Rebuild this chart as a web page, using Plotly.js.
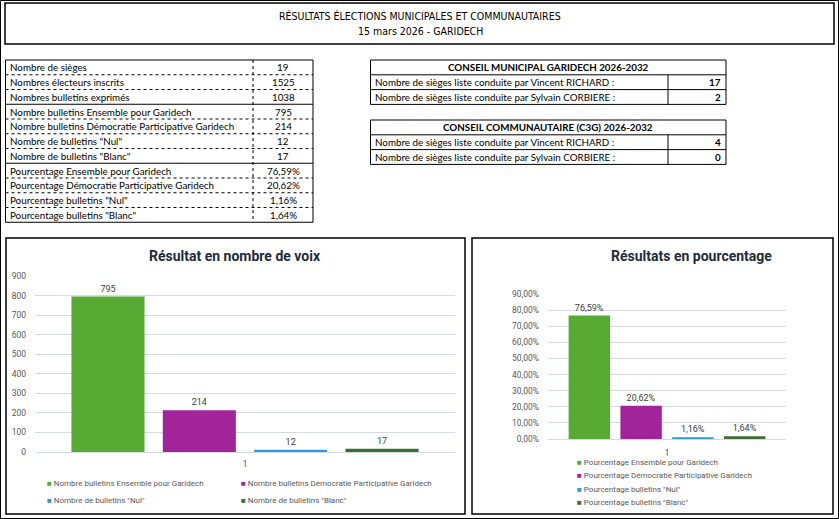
<!DOCTYPE html>
<html><head><meta charset="utf-8">
<script src="https://cdn.plot.ly/plotly-3.0.1.min.js"></script>
<style>html,body{margin:0;padding:0;background:#fff;overflow:hidden}#chart{width:839px;height:519px}</style>
</head><body><div id="chart"></div>
<script>
const W = 839, H = 519;

// ---- data ----
const pageTitle = 'RÉSULTATS ÉLECTIONS MUNICIPALES ET COMMUNAUTAIRES';
const pageSubtitle = '15 mars 2026 - GARIDECH';
const summaryLabels = [
  'Nombre de sièges',
  'Nombres électeurs inscrits',
  'Nombres bulletins exprimés',
  'Nombre bulletins Ensemble pour Garidech',
  'Nombre bulletins Démocratie Participative Garidech',
  'Nombre de bulletins "Nul"',
  'Nombre de bulletins "Blanc"',
  'Pourcentage Ensemble pour Garidech',
  'Pourcentage Démocratie Participative Garidech',
  'Pourcentage bulletins "Nul"',
  'Pourcentage bulletins "Blanc"'
];
const summaryValues = ['19', '1525', '1038', '795', '214', '12', '17', '76,59%', '20,62%', '1,16%', '1,64%'];
const municipalTitle = 'CONSEIL MUNICIPAL GARIDECH 2026-2032';
const communityTitle = 'CONSEIL COMMUNAUTAIRE (C3G) 2026-2032';
const seatLabels = [
  'Nombre de sièges liste conduite par Vincent RICHARD :',
  'Nombre de sièges liste conduite par Sylvain CORBIERE :'
];
const municipalSeats = [17, 2];
const communitySeats = [4, 0];

const category = ['1'];
const voteTitle = 'Résultat en nombre de voix';
const voteNames = [
  'Nombre bulletins Ensemble pour Garidech',
  'Nombre bulletins Démocratie Participative Garidech',
  'Nombre de bulletins "Nul"',
  'Nombre de bulletins "Blanc"'
];
const voteValues = [795, 214, 12, 17];
const pctTitle = 'Résultats en pourcentage';
const pctNames = [
  'Pourcentage Ensemble pour Garidech',
  'Pourcentage Démocratie Participative Garidech',
  'Pourcentage bulletins "Nul"',
  'Pourcentage bulletins "Blanc"'
];
const pctValues = [0.7659, 0.2062, 0.0116, 0.0164];
const seriesColors = ['#57ab35', '#a1249a', '#2b9cd6', '#3c6d31'];

// ---- helpers (pixel -> paper) ----
const X = px => px / W;
const Y = py => 1 - py / H;
const TABLE_FONT = 'Lato, Roboto, sans-serif';
const CHART_FONT = 'Roboto, Liberation Sans, sans-serif';
const TITLE_FONT = 'Liberation Sans Narrow, DejaVu Sans Condensed, Roboto, sans-serif';
const TS = 9.8;

const shapes = [];
const annotations = [];
function rect(x0, y0, x1, y1, w) {
  shapes.push({type: 'rect', xref: 'paper', yref: 'paper', x0: X(x0), x1: X(x1), y0: Y(y1), y1: Y(y0),
    line: {color: '#000', width: w}, fillcolor: 'rgba(0,0,0,0)'});
}
function hline(x0, x1, y, w, dash) {
  shapes.push({type: 'line', xref: 'paper', yref: 'paper', x0: X(x0), x1: X(x1), y0: Y(y), y1: Y(y),
    line: {color: '#000', width: w, dash: dash || 'solid'}});
}
function vline(x, y0, y1, w, dash) {
  shapes.push({type: 'line', xref: 'paper', yref: 'paper', x0: X(x), x1: X(x), y0: Y(y0), y1: Y(y1),
    line: {color: '#000', width: w, dash: dash || 'solid'}});
}
function text(t, x, y, anchor, size, family, color) {
  annotations.push({text: t, xref: 'paper', yref: 'paper', x: X(x), y: Y(y), xanchor: anchor, yanchor: 'middle',
    showarrow: false, font: {size: size, family: family, color: color || '#000'}});
}

// page border & title box
rect(0.5, 0.5, 838.5, 518.5, 1);
rect(5, 3, 834, 44, 1.5);
text(pageTitle, 420, 16, 'center', 10.5, TITLE_FONT);
text(pageSubtitle, 420, 31, 'center', 10.5, TITLE_FONT);

// summary table
const tL = 5.5, tR = 313, tTop = 60, rowH = 14.75, tDiv = 253;
const tBot = tTop + rowH * summaryLabels.length;
rect(tL, tTop, tR, tBot, 1);
vline(tDiv, tTop, tBot, 1, 'dot');
for (let i = 1; i < summaryLabels.length; i++) {
  const solid = (i === 3 || i === 7);
  hline(tL, tR, tTop + rowH * i, 1, solid ? 'solid' : 'dot');
}
summaryLabels.forEach((l, i) => {
  const cy = tTop + rowH * (i + 0.5);
  text(l, 8, cy, 'left', TS, TABLE_FONT);
  text(summaryValues[i], (tDiv + tR) / 2, cy, 'center', TS, TABLE_FONT);
});

// seat tables
function seatTable(top, title, seats) {
  const L = 370.5, R = 726, D = 668, h = 14.8;
  rect(L, top, R, top + 3 * h, 1);
  hline(L, R, top + h, 1);
  hline(L, R, top + 2 * h, 1);
  vline(D, top + h, top + 3 * h, 1);
  text('<b>' + title + '</b>', (L + R) / 2, top + h * 0.5, 'center', TS, TABLE_FONT);
  seatLabels.forEach((l, i) => {
    const cy = top + h * (i + 1.5);
    text(l, 373, cy, 'left', TS, TABLE_FONT);
    text('<b>' + seats[i] + '</b>', 723, cy, 'right', TS, TABLE_FONT);
  });
}
seatTable(60, municipalTitle, municipalSeats);
seatTable(120, communityTitle, communitySeats);

// chart boxes & titles
rect(6, 238, 465, 514, 1.5);
rect(472, 238, 833, 514, 1.5);
text('<b>' + voteTitle + '</b>', 235, 256, 'center', 14, CHART_FONT, '#1e2b3c');
text('<b>' + pctTitle + '</b>', 691, 256, 'center', 14, CHART_FONT, '#1e2b3c');

// legends as text rows
const leftLegendPos = [[45, 483], [239, 483], [45, 500], [239, 500]];
voteNames.forEach((n, i) => {
  text('<span style="color:' + seriesColors[i] + '">■</span> ' + n, leftLegendPos[i][0], leftLegendPos[i][1], 'left', 8, CHART_FONT, '#595959');
});
const rightLegendY = [462, 475.5, 489, 502];
pctNames.forEach((n, i) => {
  text('<span style="color:' + seriesColors[i] + '">■</span> ' + n, 575, rightLegendY[i], 'left', 8, CHART_FONT, '#595959');
});

// traces
const traces = [];
voteNames.forEach((n, i) => {
  traces.push({type: 'bar', name: n, x: category, y: [voteValues[i]], xaxis: 'x', yaxis: 'y',
    marker: {color: seriesColors[i]}, texttemplate: '%{y}', textposition: 'outside',
    textfont: {size: 9, color: '#404040', family: CHART_FONT}, cliponaxis: false, showlegend: false});
});
pctNames.forEach((n, i) => {
  traces.push({type: 'bar', name: n, x: category, y: [pctValues[i]], xaxis: 'x2', yaxis: 'y2',
    marker: {color: seriesColors[i]}, texttemplate: '%{y:.2%}', textposition: 'outside',
    textfont: {size: 9, color: '#404040', family: CHART_FONT}, cliponaxis: false, showlegend: false});
});

const gridColor = '#d3dae2';
const layout = {
  width: W, height: H, margin: {l: 0, r: 0, t: 0, b: 0},
  paper_bgcolor: '#fff', plot_bgcolor: 'rgba(0,0,0,0)',
  font: {family: CHART_FONT, color: '#595959'},
  separators: ', ',
  barmode: 'group', bargap: 0.13, bargroupgap: 0.2,
  showlegend: false,
  xaxis: {domain: [X(35), X(455)], anchor: 'y', type: 'category', showgrid: false, zeroline: false, showline: false,
    ticks: '', tickfont: {size: 9, color: '#595959'}, ticklabelstandoff: 5, fixedrange: true},
  yaxis: {domain: [Y(452), Y(276)], anchor: 'x', range: [0, 900], tick0: 0, dtick: 100, gridcolor: gridColor,
    zeroline: true, zerolinecolor: gridColor, zerolinewidth: 1, showline: false, ticks: '',
    tickfont: {size: 8.5, color: '#595959'}, ticklabelstandoff: 8, fixedrange: true},
  xaxis2: {domain: [X(548), X(786)], anchor: 'y2', type: 'category', showgrid: false, zeroline: false, showline: false,
    ticks: '', tickfont: {size: 9, color: '#595959'}, ticklabelstandoff: 7, fixedrange: true},
  yaxis2: {domain: [Y(439), Y(294)], anchor: 'x2', range: [0, 0.9], tick0: 0, dtick: 0.1, tickformat: '.2%',
    gridcolor: gridColor, zeroline: true, zerolinecolor: gridColor, zerolinewidth: 1, showline: false, ticks: '',
    tickfont: {size: 8.5, color: '#595959'}, ticklabelstandoff: 8, fixedrange: true},
  shapes: shapes,
  annotations: annotations
};
Plotly.newPlot('chart', traces, layout, {displayModeBar: false, staticPlot: true});
</script></body></html>
